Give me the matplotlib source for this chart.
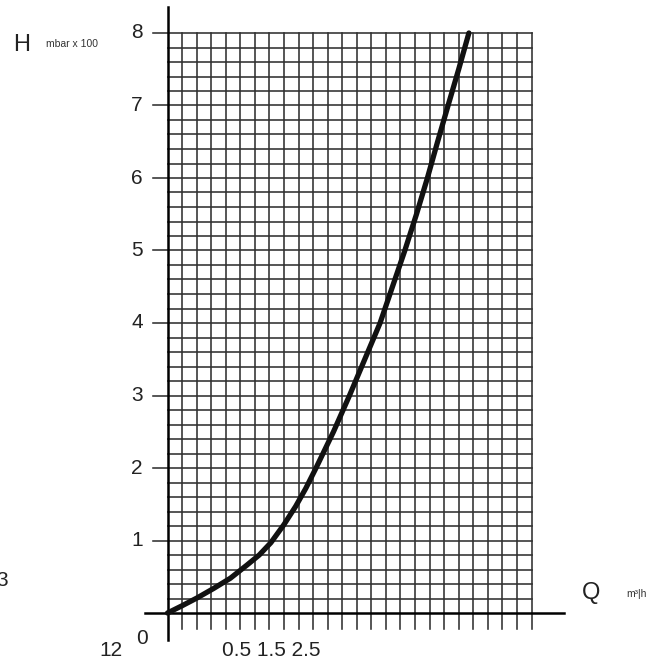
import numpy as np
import matplotlib.pyplot as plt

plt.rcParams['font.family'] = ['Liberation Sans', 'DejaVu Sans']

# --- DATA ---
q_vals = [0.0, 1.0, 2.05, 3.18, 4.32, 5.45, 6.3, 7.1, 8.0, 8.8, 9.5,
          10.2, 11.4, 12.5, 13.55, 14.6, 15.45, 16.3, 17.1, 17.85,
          18.55, 19.27, 20.0, 20.7]
h_vals = [0.0, 0.10, 0.21, 0.34, 0.48, 0.66, 0.80, 0.97, 1.22, 1.47, 1.72,
          2.0, 2.5, 3.0, 3.5, 4.0, 4.5, 5.0, 5.5, 6.0,
          6.5, 7.0, 7.5, 8.0]
y_ticks = [1, 2, 3, 4, 5, 6, 7, 8]
x_labels = ['12', '0', '0.5 1.5 2.5']

n_cols = 25
h_max = 8
minor_step = 0.2

fig = plt.figure(figsize=(6.53, 6.62), dpi=100)
ax = fig.add_axes([167.5 / 653, 49 / 662, 364 / 653, 580 / 662])
ax.set_xlim(0, n_cols)
ax.set_ylim(0, h_max)
ax.axis('off')

grid_col = '#303030'
# vertical grid lines (extend a bit below the Q axis)
for xv in range(1, n_cols + 1):
    ax.plot([xv, xv], [-0.22, h_max], color=grid_col, lw=1.15, clip_on=False)
# horizontal grid lines, the whole-number ones stick out as ticks
for yv in np.arange(minor_step, h_max + 0.001, minor_step):
    x0 = -1.0 if abs(yv - round(yv)) < 1e-6 else 0
    ax.plot([x0, n_cols], [yv, yv], color=grid_col, lw=1.15, clip_on=False)

# axes lines
ax.plot([-1.55, 27.2], [0, 0], color='black', lw=1.8, clip_on=False)
ax.plot([0, 0], [-0.37, 8.36], color='black', lw=1.8, clip_on=False)

# curve
ax.plot(q_vals, h_vals, color='#111111', lw=3.8, solid_capstyle='round',
        solid_joinstyle='round', clip_on=False, zorder=5)

# y tick labels
for t in y_ticks:
    ax.text(-2.1, t, str(t), ha='center', va='center', fontsize=15,
            color='#222222', clip_on=False)

# axis titles
fig.text(22 / 653, 1 - 45 / 662, 'H', ha='center', va='center', fontsize=17, color='#222222')
fig.text(72 / 653, 1 - 44 / 662, 'mbar x 100', ha='center', va='center', fontsize=7.5, color='#333333')
fig.text(591 / 653, 1 - 593 / 662, 'Q', ha='center', va='center', fontsize=17, color='#222222')
fig.text(636 / 653, 1 - 594 / 662, 'm³|h', ha='center', va='center', fontsize=7.5, color='#333333')

# bottom labels
fig.text(111 / 653, 1 - 651 / 662, x_labels[0], ha='center', va='center', fontsize=15, color='#222222')
fig.text(142 / 653, 1 - 638 / 662, x_labels[1], ha='center', va='center', fontsize=15, color='#222222')
fig.text(222 / 653, 1 - 651 / 662, x_labels[2], ha='left', va='center', fontsize=15, color='#222222')
fig.text(2 / 653, 1 - 581 / 662, '3', ha='center', va='center', fontsize=15, color='#222222')

fig.savefig('out.png', dpi=100, facecolor='white')
